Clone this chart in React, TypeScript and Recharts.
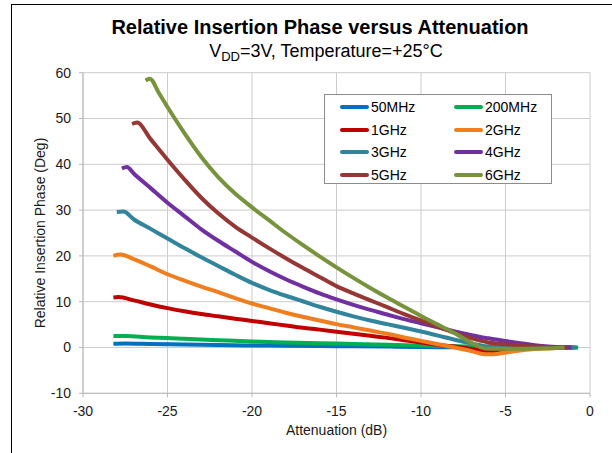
import { CartesianGrid, Legend, Line, LineChart, XAxis, YAxis } from "recharts";

// attenuation (dB) and relative insertion phase (deg) per frequency
const atten50M = [-28.2, -27.5, -26, -24, -22, -20, -18, -15, -12, -10, -8, -6, -4, -2, -0.9];
const phase50M = [0.8, 0.85, 0.75, 0.65, 0.55, 0.45, 0.4, 0.3, 0.2, 0.1, 0.05, 0, 0, 0, 0];

const atten200M = [-28.2, -27.5, -26, -25, -24, -22, -20, -18, -15, -12, -10, -8, -6, -4, -2, -0.7];
const phase200M = [2.5, 2.5, 2.2, 2.1, 1.9, 1.6, 1.3, 1.1, 0.85, 0.6, 0.45, 0.3, 0.15, 0.05, 0, 0];

const atten1G = [-28.2, -27.9, -27, -26, -25, -24, -23, -22, -21, -20, -19, -18, -17, -16, -15, -14, -13, -12, -11, -10, -9, -8, -7, -6.5, -6, -5, -4, -3, -2, -1];
const phase1G = [10.9, 11.0, 10.3, 9.4, 8.6, 7.9, 7.3, 6.8, 6.3, 5.8, 5.3, 4.8, 4.3, 3.9, 3.45, 3.0, 2.55, 2.1, 1.6, 1.1, 0.6, 0.2, -0.3, -0.6, -0.8, -0.6, -0.3, -0.1, 0, 0];

const atten2G = [-28.2, -27.8, -27, -26, -25, -24, -23, -22, -21, -20, -19, -18, -17, -16, -15, -14, -13, -12, -11, -10, -9, -8, -7, -6.5, -6, -5.5, -5, -4, -3, -2, -1];
const phase2G = [20.0, 20.3, 19.3, 17.7, 16.0, 14.6, 13.3, 12.1, 10.8, 9.6, 8.6, 7.6, 6.7, 5.9, 5.1, 4.4, 3.7, 3.0, 2.2, 1.45, 0.7, 0, -0.8, -1.3, -1.5, -1.4, -1.1, -0.6, -0.3, -0.1, 0];

const atten3G = [-28, -27.6, -27, -26, -25, -24, -23, -22, -21, -20, -19, -18, -17, -16, -15, -14, -13, -12, -11, -10, -9, -8, -7, -6, -5, -4, -3, -2, -0.8];
const phase3G = [29.6, 29.7, 28.0, 25.9, 23.8, 21.7, 19.7, 17.8, 15.9, 14.1, 12.6, 11.3, 10.1, 8.9, 7.8, 6.8, 5.9, 5.1, 4.3, 3.5, 2.6, 1.7, 0.9, 0.2, 0, 0, 0, 0, 0];

const atten4G = [-27.7, -27.4, -27, -26, -25, -24, -23, -22, -21, -20, -19, -18, -17, -16, -15, -14, -13, -12, -11, -10, -9, -8, -7, -6.5, -6, -5, -4, -3, -2, -1.1];
const phase4G = [39.1, 39.4, 38.0, 34.8, 31.6, 28.7, 25.8, 23.3, 21.0, 18.7, 16.7, 14.9, 13.3, 11.8, 10.5, 9.3, 8.2, 7.2, 6.2, 5.3, 4.4, 3.5, 2.7, 2.3, 2.0, 1.4, 0.9, 0.4, 0.1, 0];

const atten5G = [-27.1, -26.8, -26, -25, -24, -23, -22, -21, -20, -19, -18, -17, -16, -15, -14, -13, -12, -11, -10, -9, -8, -7, -6.5, -6, -5, -4, -3, -2, -1.3];
const phase5G = [48.8, 49.1, 45.5, 41.0, 36.7, 32.7, 29.3, 26.4, 24.0, 21.7, 19.5, 17.4, 15.4, 13.4, 11.8, 10.3, 8.8, 7.3, 5.9, 4.5, 3.2, 2.0, 1.5, 1.1, 0.7, 0.4, 0.2, 0.05, 0];

const atten6G = [-26.3, -26.05, -25.5, -25, -24, -23, -22, -21, -20, -19, -18, -17, -16, -15, -14, -13, -12, -11, -10, -9, -8, -7.5, -7, -6.5, -6, -5, -4, -3, -2, -1.5];
const phase6G = [58.3, 58.7, 55.5, 52.5, 46.8, 41.6, 37.2, 33.6, 30.6, 27.8, 25.0, 22.4, 19.9, 17.5, 15.2, 13.0, 10.9, 8.9, 6.9, 5.0, 3.1, 2.0, 1.0, 0.1, -0.3, -0.3, -0.3, -0.2, -0.1, 0];

const xTicks = [-30, -25, -20, -15, -10, -5, 0];
const yTicks = [-10, 0, 10, 20, 30, 40, 50, 60];

const FONT = '"Liberation Sans", Arial, sans-serif';

const series = [
  { name: "50MHz", color: "#0070C0", x: atten50M, y: phase50M },
  { name: "200MHz", color: "#00B050", x: atten200M, y: phase200M },
  { name: "1GHz", color: "#C00000", x: atten1G, y: phase1G },
  { name: "2GHz", color: "#F07D1E", x: atten2G, y: phase2G },
  { name: "3GHz", color: "#31849B", x: atten3G, y: phase3G },
  { name: "4GHz", color: "#7030A0", x: atten4G, y: phase4G },
  { name: "5GHz", color: "#953735", x: atten5G, y: phase5G },
  { name: "6GHz", color: "#77933C", x: atten6G, y: phase6G },
].map((s) => ({
  ...s,
  points: s.x.map((a, i) => ({ atten: a, phase: s.y[i] })),
}));

const seriesOrder = series.map((s) => s.name);

const LegendBox = ({ payload }: any) => {
  // recharts sorts legend items by name; put them back in series order
  const items = [...(payload || [])].sort(
    (a: any, b: any) => seriesOrder.indexOf(a.value) - seriesOrder.indexOf(b.value)
  );
  return (
    <div
      style={{
        width: 228,
        height: 90,
        boxSizing: "border-box",
        border: "1px solid #8c8c8c",
        background: "#fff",
        paddingTop: 1,
        display: "grid",
        gridTemplateColumns: "114px 114px",
        gridAutoRows: "22.5px",
        fontFamily: FONT,
        fontSize: 14,
        color: "#000",
      }}
    >
      {items.map((entry: any) => (
        <div
          key={entry.value}
          style={{ display: "flex", alignItems: "center", paddingLeft: 15 }}
        >
          <span
            style={{
              display: "inline-block",
              width: 29,
              height: 4,
              borderRadius: 2,
              background: entry.color,
              marginRight: 2,
            }}
          />
          <span>{entry.value}</span>
        </div>
      ))}
    </div>
  );
};

export default function App() {
  return (
    <div
      style={{
        position: "absolute",
        left: 0,
        top: 0,
        width: 612,
        height: 453,
        background: "#fff",
        fontFamily: FONT,
        overflow: "hidden",
      }}
    >
      <div
        style={{
          position: "absolute",
          left: 11,
          top: 4,
          width: 620,
          height: 470,
          borderTop: "1.5px solid #000",
          borderLeft: "1.5px solid #000",
        }}
      />
      <div
        style={{
          position: "absolute",
          left: 14,
          width: 612,
          top: 16,
          textAlign: "center",
          fontSize: 20,
          lineHeight: "22px",
          fontWeight: "bold",
        }}
      >
        Relative Insertion Phase versus Attenuation
      </div>
      <div
        style={{
          position: "absolute",
          left: 20,
          width: 612,
          top: 41,
          textAlign: "center",
          fontSize: 18,
          lineHeight: "20px",
        }}
      >
        V<sub style={{ fontSize: 13, verticalAlign: -4 }}>DD</sub>=3V,
        Temperature=+25°C
      </div>
      <LineChart
        width={612}
        height={453}
        margin={{ top: 72.7, right: 22, bottom: 29.7, left: 0 }}
        style={{ position: "absolute", left: 0, top: 0 }}
      >
        <CartesianGrid stroke="#cccccc" strokeWidth={1} />
        <XAxis
          dataKey="atten"
          type="number"
          domain={[-30, 0]}
          ticks={xTicks}
          allowDataOverflow
          height={30}
          stroke="#b8b8b8"
          tickSize={4}
          tickMargin={9}
          tick={{ fill: "#1a1a1a", fontSize: 14, fontFamily: FONT }}
          label={{
            value: "Attenuation (dB)",
            position: "bottom",
            offset: 2,
            style: { fill: "#1a1a1a", fontSize: 14, fontFamily: FONT },
          }}
        />
        <YAxis
          type="number"
          domain={[-10, 60]}
          ticks={yTicks}
          allowDataOverflow
          width={83}
          stroke="#b8b8b8"
          tickSize={4}
          tickMargin={8}
          tick={{ fill: "#1a1a1a", fontSize: 14, fontFamily: FONT }}
          label={{
            value: "Relative Insertion Phase (Deg)",
            angle: -90,
            position: "insideLeft",
            offset: 40,
            style: {
              fill: "#1a1a1a",
              fontSize: 14,
              fontFamily: FONT,
              textAnchor: "middle",
            },
          }}
        />
        <Legend
          layout="horizontal"
          verticalAlign="middle"
          align="center"
          content={<LegendBox />}
          wrapperStyle={{ left: 324, top: 94, width: 228, height: 90 }}
        />
        {series.map((s) => (
          <Line
            key={s.name}
            name={s.name}
            data={s.points}
            dataKey="phase"
            type="monotone"
            stroke={s.color}
            strokeWidth={4}
            dot={false}
            activeDot={false}
            isAnimationActive={false}
          />
        ))}
      </LineChart>
    </div>
  );
}
